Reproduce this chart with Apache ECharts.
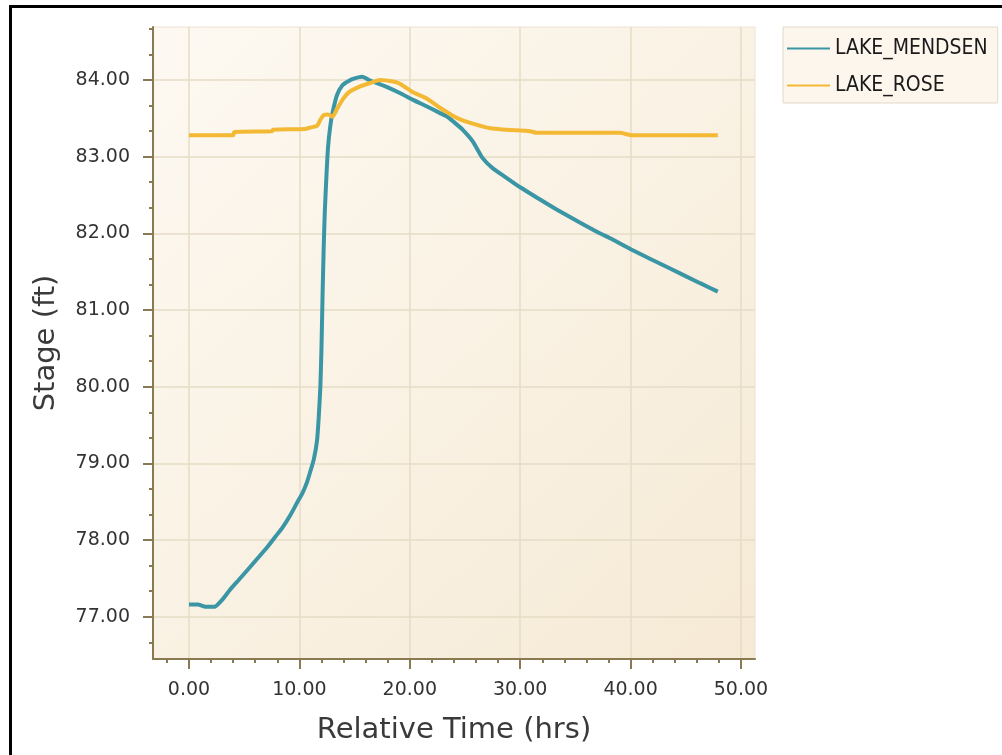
<!DOCTYPE html>
<html>
<head>
<meta charset="utf-8">
<script src="https://cdn.jsdelivr.net/npm/echarts@6/dist/echarts.min.js"></script>
<style>
  html, body { margin: 0; padding: 0; background: #fff; }
  #chart { width: 1002px; height: 755px; }
</style>
</head>
<body>
<div id="chart"></div>
<script>
// 读图得到的数据 (hrs, ft)
const mendsenTime = [0.0, 0.8, 1.5, 2.3, 3.0, 3.7, 4.5, 5.3, 6.2, 7.1, 7.8, 8.5, 9.2, 9.8, 10.3, 10.7, 11.0, 11.3, 11.6, 11.75, 11.9, 12.0, 12.1, 12.2, 12.3, 12.45, 12.6, 12.8, 13.0, 13.4, 13.9, 14.5, 15.0, 15.7, 16.4, 17.2, 17.9, 19.1, 20.3, 21.6, 22.7, 23.4, 24.0, 24.8, 25.7, 26.6, 27.5, 28.7, 30.0, 31.8, 33.3, 35.4, 37.2, 38.1, 40.2, 43.3, 46.3, 47.9];
const mendsenStage = [77.16, 77.16, 77.13, 77.13, 77.22, 77.35, 77.48, 77.61, 77.76, 77.91, 78.04, 78.17, 78.33, 78.49, 78.62, 78.76, 78.90, 79.05, 79.30, 79.60, 80.00, 80.50, 81.20, 81.80, 82.27, 82.75, 83.13, 83.40, 83.57, 83.80, 83.93, 83.99, 84.02, 84.04, 83.99, 83.95, 83.91, 83.83, 83.74, 83.65, 83.57, 83.52, 83.45, 83.35, 83.20, 82.98, 82.85, 82.73, 82.60, 82.44, 82.31, 82.14, 82.00, 81.94, 81.78, 81.56, 81.35, 81.24];

const roseTime = [0, 4.0, 4.1, 7.5, 7.6, 10.5, 11.0, 11.6, 11.9, 12.2, 12.6, 13.0, 13.4, 13.9, 14.5, 15.4, 16.4, 17.3, 18.5, 19.1, 20.3, 21.5, 22.7, 23.6, 24.5, 25.7, 27.3, 28.8, 30.9, 31.5, 39.0, 40.1, 47.9];
const roseStage = [83.28, 83.28, 83.32, 83.33, 83.35, 83.36, 83.38, 83.40, 83.48, 83.54, 83.55, 83.52, 83.62, 83.74, 83.84, 83.91, 83.96, 84.00, 83.98, 83.95, 83.84, 83.76, 83.64, 83.56, 83.49, 83.43, 83.37, 83.35, 83.33, 83.31, 83.31, 83.28, 83.28];

const xTicks = [0, 10, 20, 30, 40, 50];
const yTicks = [77, 78, 79, 80, 81, 82, 83, 84];

const chart = echarts.init(document.getElementById('chart'));

const axisColor = '#8a7a52';
const gridColor = '#e6dcc6';
const font = 'DejaVu Sans';

const option = {
  backgroundColor: '#ffffff',
  animation: false,
  graphic: [{
    type: 'rect',
    shape: { x: 10.5, y: 6.5, width: 1100, height: 1000 },
    style: { fill: 'none', stroke: '#000', lineWidth: 3 },
    silent: true
  }],
  grid: {
    left: 153, top: 27, right: 247, bottom: 96,
    show: true,
    borderColor: '#ece4d2',
    borderWidth: 1,
    backgroundColor: {
      type: 'linear', x: 0, y: 0, x2: 1, y2: 1,
      colorStops: [
        { offset: 0, color: '#fdf9f2' },
        { offset: 1, color: '#f6ead5' }
      ]
    }
  },
  legend: {
    orient: 'vertical',
    left: 783, top: 27,
    padding: [11, 10, 7, 4],
    itemGap: 16,
    itemWidth: 43, itemHeight: 2,
    icon: 'rect',
    backgroundColor: '#fcf6ec',
    borderColor: '#e2dac8',
    borderWidth: 1,
    textStyle: { fontFamily: 'DejaVu Sans Condensed', fontSize: 21, color: '#1a1a1a', lineHeight: 21 },
    data: ['LAKE_MENDSEN', 'LAKE_ROSE']
  },
  xAxis: {
    type: 'value',
    min: -3.26, max: 51.27,
    minInterval: 10, maxInterval: 10,
    name: 'Relative Time (hrs)',
    nameLocation: 'middle',
    nameGap: 57,
    nameTextStyle: { fontFamily: font, fontSize: 29, color: '#3a3a3a' },
    axisLine: { show: true, onZero: false, lineStyle: { color: axisColor, width: 2 } },
    axisTick: { show: true, customValues: xTicks, length: 10, lineStyle: { color: axisColor, width: 2 } },
    minorTick: { show: true, splitNumber: 5, length: 4, lineStyle: { color: axisColor, width: 2 } },
    axisLabel: { customValues: xTicks, margin: 22, fontFamily: font, fontSize: 19, color: '#333', formatter: v => v.toFixed(2) },
    splitLine: { show: true, lineStyle: { color: gridColor, width: 1.5 } }
  },
  yAxis: {
    type: 'value',
    min: 76.45, max: 84.69,
    minInterval: 1, maxInterval: 1,
    name: 'Stage (ft)',
    nameLocation: 'middle',
    nameGap: 92,
    nameTextStyle: { fontFamily: font, fontSize: 29, color: '#3a3a3a' },
    axisLine: { show: true, onZero: false, lineStyle: { color: axisColor, width: 2 } },
    axisTick: { show: true, customValues: yTicks, length: 10, lineStyle: { color: axisColor, width: 2 } },
    minorTick: { show: true, splitNumber: 3, length: 4, lineStyle: { color: axisColor, width: 2 } },
    axisLabel: { customValues: yTicks, margin: 23, fontFamily: font, fontSize: 19, color: '#333', formatter: v => v.toFixed(2) },
    splitLine: { show: true, lineStyle: { color: gridColor, width: 1.5 } }
  },
  series: [
    {
      name: 'LAKE_MENDSEN',
      type: 'line',
      showSymbol: false,
      smooth: 0.2,
      color: '#3a95a5',
      lineStyle: { width: 4, color: '#3a95a5' },
      data: mendsenTime.map((t, i) => [t, mendsenStage[i]])
    },
    {
      name: 'LAKE_ROSE',
      type: 'line',
      showSymbol: false,
      smooth: 0.2,
      color: '#f3b934',
      lineStyle: { width: 4, color: '#f3b934' },
      data: roseTime.map((t, i) => [t, roseStage[i]])
    }
  ]
};

chart.setOption(option);
</script>
</body>
</html>
